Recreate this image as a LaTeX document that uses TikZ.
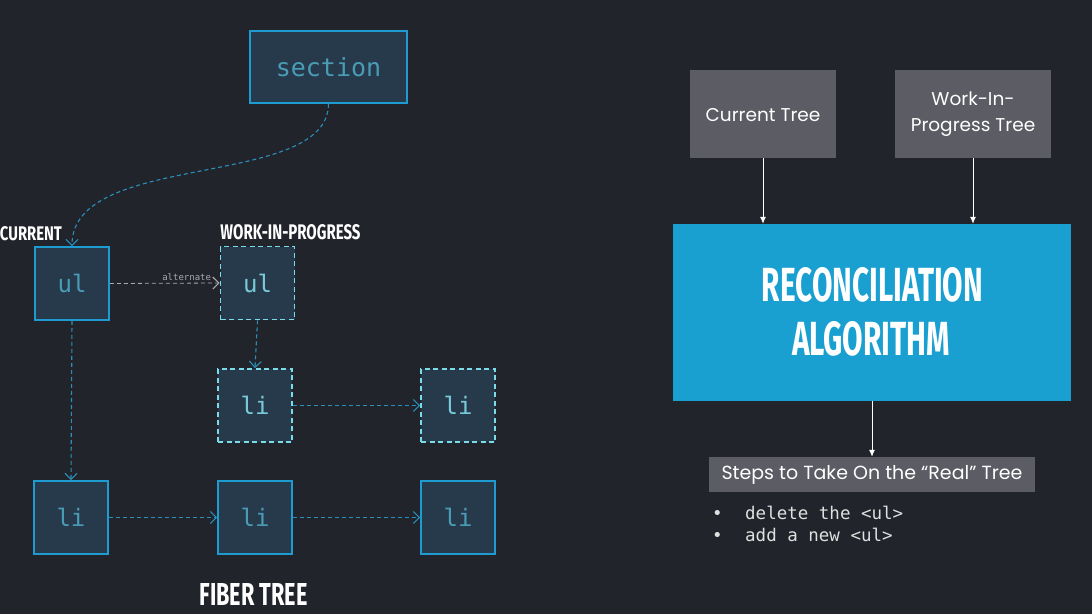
\documentclass[tikz,border=0pt]{standalone}
\usepackage{fontspec}
\usetikzlibrary{arrows.meta}
\setmainfont{Poppins}
\newfontfamily\headfont{Fira Sans}
\newfontfamily\gothic{Poppins}
\newfontfamily\codefont{DejaVu Sans Mono}
\definecolor{bg}{HTML}{22242B}
\definecolor{boxfill}{HTML}{263A4B}
\definecolor{boxline}{HTML}{1E9BD0}
\definecolor{wipline}{HTML}{7ADCE8}
\definecolor{boxtext}{HTML}{4A9CB6}
\definecolor{wiptext}{HTML}{78CAD8}
\definecolor{conn}{HTML}{2A90BA}
\definecolor{greybox}{HTML}{5B5C64}
\definecolor{recblue}{HTML}{1A9FD1}
\definecolor{altgrey}{HTML}{A8AAB0}
\newcommand{\headtxt}[3]{\resizebox{#1pt}{#2pt}{\headfont\bfseries #3}}
\tikzset{
  fbox/.style={draw=boxline, line width=1.8pt, fill=boxfill, minimum width=74pt, minimum height=73pt,
    inner sep=0pt, text=boxtext, font=\codefont\fontsize{24}{24}\selectfont},
  wbox/.style={fbox, draw=wipline, dash pattern=on 5pt off 3.5pt, text=wiptext},
  fconn/.style={draw=conn, line width=1.1pt, dash pattern=on 4pt off 3pt,
    -{Straight Barb[length=6pt,width=12pt,line width=1.1pt]}},
  altconn/.style={fconn, draw=altgrey, line width=0.8pt},
  head/.style={inner sep=0pt, text=white},
  gbox/.style={fill=greybox, inner sep=0pt, text=white, align=center,
    font=\gothic\fontsize{18.5}{26}\selectfont},
  warrow/.style={draw=white, line width=1pt, -{Latex[length=7pt,width=6pt]}},
}
\begin{document}
\begin{tikzpicture}[x=1pt,y=-1pt]
\fill[bg] (0,0) rectangle (1092,614);
\useasboundingbox (0,0) rectangle (1092,614);

% ---------- fiber tree ----------
\node[fbox, minimum width=157pt, minimum height=72pt, font=\codefont\fontsize{25}{25}\selectfont] (sec) at (328.5,67) {section};
\node[fbox] (cul) at (72,283.5) {ul};
\node[wbox] (wul) at (257.5,283) {ul};
\node[wbox] (wli1) at (255,405.5) {li};
\node[wbox] (wli2) at (458,405.5) {li};
\node[fbox] (bli1) at (71,517.5) {li};
\node[fbox] (bli2) at (255,517.5) {li};
\node[fbox] (bli3) at (458,517.5) {li};

\node[head] (lcur) at (31,234) {\headtxt{62}{14}{CURRENT}};
\node[head] (lwip) at (290.5,232) {\headtxt{140}{15}{WORK-IN-PROGRESS}};
\node[head] (lfib) at (253.5,594) {\headtxt{108}{22}{FIBER TREE}};

\draw[fconn] (sec.south) .. controls (328,190) and (72,150) .. (cul.north);
\draw[altconn] (cul.east) -- node[pos=0.7, above, inner sep=2pt, text=altgrey, font=\codefont\fontsize{9}{9}\selectfont] (alt) {alternate} (wul.west);
\draw[fconn] (cul.south) -- (bli1.north);
\draw[fconn] (wul.south) -- (wli1.north);
\draw[fconn] (wli1.east) -- (wli2.west);
\draw[fconn] (bli1.east) -- (bli2.west);
\draw[fconn] (bli2.east) -- (bli3.west);

% ---------- right side ----------
\node[gbox, minimum width=146pt, minimum height=88pt, text height=15pt] (ct) at (763,114) {Current Tree};
\node[gbox, minimum width=156pt, minimum height=88pt] (wt) at (973,114) {Work-In-\\Progress Tree};
\node[fill=recblue, minimum width=398pt, minimum height=177pt, inner sep=0pt] (rec) at (872,312.5) {};
\node[head] (rec1) at (872.5,285) {\headtxt{221}{34}{RECONCILIATION}};
\node[head] (rec2) at (871,339) {\headtxt{158}{34}{ALGORITHM}};
\node[gbox, minimum width=326pt, minimum height=35pt, font=\gothic\fontsize{19}{22}\selectfont] (steps) at (872,474.5) {Steps to Take On the “Real” Tree};

\draw[warrow] (ct.south) -- (ct.south |- rec.north);
\draw[warrow] (wt.south) -- (wt.south |- rec.north);
\draw[warrow] (rec.south) -- (steps.north);

\node[anchor=base west, inner sep=0pt, text=white!88!black, font=\codefont\fontsize{17.5}{22}\selectfont] (b1) at (712,519) {\makebox[33pt][l]{•}delete the <ul>};
\node[anchor=base west, inner sep=0pt, text=white!88!black, font=\codefont\fontsize{17.5}{22}\selectfont] (b2) at (712,541) {\makebox[33pt][l]{•}add a new <ul>};
\end{tikzpicture}
\end{document}
